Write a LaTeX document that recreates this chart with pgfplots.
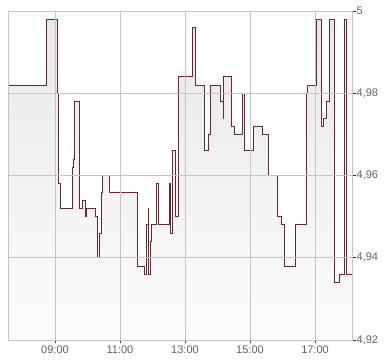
\documentclass[border=0pt]{standalone}
\usepackage{fontspec}
\setmainfont{Liberation Sans}
\usepackage{pgfplots}
\usepackage{pgfplotstable}
\pgfplotsset{compat=1.18}
\definecolor{linered}{RGB}{110,36,40}
\definecolor{navy}{RGB}{28,48,88}
\definecolor{gridgray}{RGB}{196,196,196}
\definecolor{labgray}{RGB}{95,95,95}
\pgfplotstableread{
x y
7.554 4.982
8.745 4.998
9.083 4.980
9.108 4.958
9.163 4.952
9.532 4.962
9.563 4.964
9.594 4.978
9.748 4.952
9.840 4.954
9.932 4.950
9.963 4.952
10.240 4.950
10.302 4.940
10.363 4.946
10.437 4.956
10.468 4.960
10.671 4.956
11.532 4.938
11.748 4.936
11.815 4.948
11.862 4.952
11.877 4.936
11.938 4.944
11.975 4.948
12.123 4.958
12.185 4.948
12.529 4.958
12.545 4.946
12.609 4.966
12.702 4.950
12.794 4.984
13.231 4.996
13.317 4.982
13.606 4.966
13.717 4.970
13.791 4.982
14.086 4.978
14.178 4.974
14.194 4.984
14.425 4.972
14.529 4.970
14.775 4.980
14.815 4.966
15.102 4.972
15.391 4.970
15.563 4.960
15.840 4.950
15.963 4.948
16.055 4.938
16.394 4.948
16.732 4.980
16.763 4.982
17.040 4.998
17.194 4.972
17.268 4.974
17.348 4.978
17.440 4.998
17.585 4.934
17.748 4.936
17.902 4.998
17.954 4.936
18.138 4.936
}\pricedata
\begin{document}
\begin{tikzpicture}
\path[use as bounding box] (0,0) rectangle (390bp,364bp);
\begin{axis}[
  at={(8bp,24bp)}, anchor=south west,
  scale only axis, width=344bp, height=329bp,
  xmin=7.554, xmax=18.138, ymin=4.92, ymax=5,
  xtick={9,11,13,15,17},
  xticklabels={09:00,11:00,13:00,15:00,17:00},
  ytick={4.92,4.94,4.96,4.98,5},
  xtick pos=bottom, ytick pos=right, yticklabel pos=right,
  tick align=outside, major tick length=3.5bp,
  minor tick num=0,
  grid=major,
  major grid style={draw=gridgray, line width=0.8bp},
  axis line style={draw=gridgray, line width=0.8bp},
  tick style={draw=navy, line width=0.8bp},
  /pgf/number format/assume math mode=true,
  /pgf/number format/use comma,
  /pgf/number format/fixed,
  /pgf/number format/precision=2,
  ticklabel style={font=\fontsize{11bp}{13bp}\selectfont, text=labgray},
  xticklabel style={inner sep=2bp},
  yticklabel style={inner sep=1bp},
  axis on top,
  clip=true,
]
\addplot[const plot, draw=none, top color=gray!18, bottom color=gray!2]
  table[x=x, y=y] {\pricedata}
  -- (axis cs:18.138,4.92) -- (axis cs:7.554,4.92) -- cycle;
\addplot[const plot, draw=linered, line width=0.85bp, mark=none]
  table[x=x, y=y] {\pricedata};
\draw[navy, line width=0.9bp] (rel axis cs:0,0) -- (rel axis cs:1,0) -- (rel axis cs:1,1);
\end{axis}
\end{tikzpicture}
\end{document}
